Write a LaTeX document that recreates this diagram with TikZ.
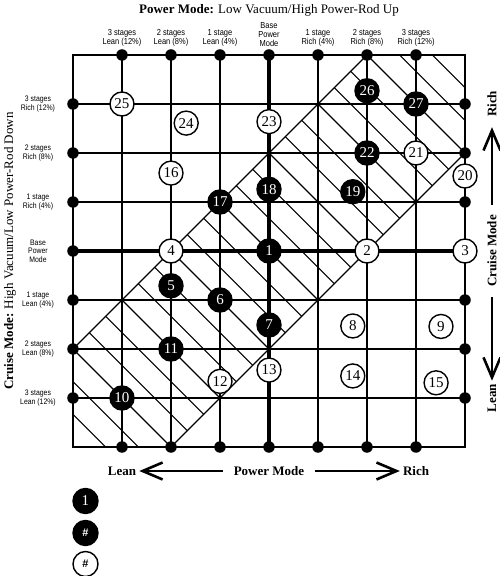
\documentclass[tikz,border=0pt]{standalone}
\usepackage{fontspec}
\setmainfont{Liberation Serif}
\newfontfamily\labfont[FakeStretch=0.86]{Liberation Sans}
\newfontfamily\symfont{Liberation Sans}
\usetikzlibrary{arrows.meta}
\begin{document}
\begin{tikzpicture}[x=49pt,y=49pt,
  gline/.style={line width=1.8pt},
  bline/.style={line width=3.2pt},
  hline/.style={line width=1.1pt},
  gdot/.style={circle, fill=black, inner sep=0pt, minimum size=11.5pt},
  wnum/.style={circle, draw=black, line width=1.4pt, fill=white, text=black, inner sep=0pt, minimum size=24pt, font=\fontsize{15}{15}\selectfont},
  bnum/.style={circle, draw=black, line width=1.4pt, fill=black, text=white, inner sep=0pt, minimum size=24pt, font=\fontsize{15}{15}\selectfont},
  toplab/.style={anchor=south, align=center, inner sep=0pt, font=\labfont\fontsize{8.7}{9}\selectfont},
  leftlab/.style={align=center, inner sep=0pt, font=\labfont\fontsize{8}{8.5}\selectfont},
  bigtext/.style={inner sep=0pt, font=\fontsize{13}{13}\selectfont},
  bigarrow/.style={line width=2.6pt, -{Straight Barb[length=20pt,width=17pt]}}
]
\useasboundingbox (-73pt,-129pt) rectangle (427pt,447pt);

% hatched band
\begin{scope}
\clip (0,2) -- (6,8) -- (8,8) -- (8,6) -- (2,0) -- (0,0) -- cycle;
\foreach \k in {1,...,23} \draw[hline] (-1,{2*\k/3+1}) -- ({2*\k/3+1},-1);
\end{scope}
\draw[hline] (0,2) -- (6,8);
\draw[hline] (2,0) -- (8,6);

% grid
\foreach \i in {1,...,7} {
  \coordinate (t\i) at (\i,8); \coordinate (b\i) at (\i,0);
  \coordinate (l\i) at (0,\i); \coordinate (r\i) at (8,\i);
}
\draw[gline] (0,0) rectangle (8,8);
\foreach \i in {1,2,3,5,6,7} {
  \draw[gline] (t\i) -- (b\i);
  \draw[gline] (l\i) -- (r\i);
}
\draw[bline] (t4) -- (b4);
\draw[bline] (l4) -- (r4);

% dots
\foreach \i in {1,...,7} {
  \node[gdot] (dt\i) at (t\i) {};
  \node[gdot] (db\i) at (b\i) {};
  \node[gdot] (dl\i) at (l\i) {};
}
\foreach \j in {1,2,3,5,6,7} \node[gdot] (dr\j) at (r\j) {};

% numbered circles
\node[bnum] (n1) at (4,4) {1};
\node[wnum] (n2) at (6,4) {2};
\node[wnum] (n3) at (8,4) {3};
\node[wnum] (n4) at (2,4) {4};
\node[bnum] (n5) at (2,3.29) {5};
\node[bnum] (n6) at (3,3) {6};
\node[bnum] (n7) at (4,2.49) {7};
\node[wnum] (n8) at (5.71,2.47) {8};
\node[wnum] (n9) at (7.51,2.46) {9};
\node[bnum] (n10) at (1,1) {10};
\node[bnum] (n11) at (2,2) {11};
\node[wnum] (n12) at (3,1.34) {12};
\node[wnum] (n13) at (4,1.57) {13};
\node[wnum] (n14) at (5.71,1.45) {14};
\node[wnum] (n15) at (7.41,1.31) {15};
\node[wnum] (n16) at (2,5.59) {16};
\node[bnum] (n17) at (3,5) {17};
\node[bnum] (n18) at (4,5.26) {18};
\node[bnum] (n19) at (5.71,5.21) {19};
\node[wnum] (n20) at (8,5.53) {20};
\node[wnum] (n21) at (7,6) {21};
\node[bnum] (n22) at (6,6) {22};
\node[wnum] (n23) at (4,6.64) {23};
\node[wnum] (n24) at (2.31,6.61) {24};
\node[wnum] (n25) at (1,7) {25};
\node[bnum] (n26) at (6,7.27) {26};
\node[bnum] (n27) at (7,7) {27};

% top labels
\node[toplab] (tl1) at ([yshift=8pt]t1) {3 stages\\Lean (12\%)};
\node[toplab] (tl2) at ([yshift=8pt]t2) {2 stages\\Lean (8\%)};
\node[toplab] (tl3) at ([yshift=8pt]t3) {1 stage\\Lean (4\%)};
\node[toplab] (tl4) at ([yshift=8pt]t4) {Base\\Power\\Mode};
\node[toplab] (tl5) at ([yshift=8pt]t5) {1 stage\\Rich (4\%)};
\node[toplab] (tl6) at ([yshift=8pt]t6) {2 stages\\Rich (8\%)};
\node[toplab] (tl7) at ([yshift=8pt]t7) {3 stages\\Rich (12\%)};

% left labels
\node[leftlab] (ll7) at ([xshift=-35pt]l7) {3 stages\\Rich (12\%)};
\node[leftlab] (ll6) at ([xshift=-35pt]l6) {2 stages\\Rich (8\%)};
\node[leftlab] (ll5) at ([xshift=-35pt]l5) {1 stage\\Rich (4\%)};
\node[leftlab] (ll4) at ([xshift=-35pt]l4) {Base\\Power\\Mode};
\node[leftlab] (ll3) at ([xshift=-35pt]l3) {1 stage\\Lean (4\%)};
\node[leftlab] (ll2) at ([xshift=-35pt]l2) {2 stages\\Lean (8\%)};
\node[leftlab] (ll1) at ([xshift=-35pt]l1) {3 stages\\Lean (12\%)};

% titles
\node[bigtext] (title) at ([yshift=45pt]t4) {\textbf{Power Mode:} Low Vacuum/High Power-Rod Up};
\node[bigtext, rotate=90] (ltitle) at ([xshift=-63pt]l4) {\textbf{Cruise Mode:} High Vacuum/Low Power-Rod Down};

% right axis
\node[bigtext, rotate=90] (cmode) at ([xshift=27pt]r4) {\textbf{Cruise Mode}};
\node[bigtext, rotate=90] (rrich) at ([xshift=27pt]r7) {\textbf{Rich}};
\node[bigtext, rotate=90] (rlean) at ([xshift=27pt]r1) {\textbf{Lean}};
\draw[bigarrow, shorten <=10pt, shorten >=10pt] (cmode) -- (rrich);
\draw[bigarrow, shorten <=10pt, shorten >=3pt] (cmode) -- (rlean);

% bottom axis
\node[bigtext] (pmode) at ([yshift=-24pt]b4) {\textbf{Power Mode}};
\node[bigtext] (blean) at ([yshift=-24pt]b1) {\textbf{Lean}};
\node[bigtext] (brich) at ([yshift=-24pt]b7) {\textbf{Rich}};
\draw[bigarrow, shorten <=11pt, shorten >=3pt] (pmode) -- (blean);
\draw[bigarrow, shorten <=11pt, shorten >=3pt] (pmode) -- (brich);

% legend
\node[bnum, minimum size=25pt] (leg1) at (12.5pt,-54pt) {1};
\node[bnum, minimum size=25pt, font=\symfont\bfseries\fontsize{11}{11}\selectfont] (leg2) at (12.5pt,-86pt) {\#};
\node[wnum, minimum size=25pt, font=\symfont\bfseries\fontsize{11}{11}\selectfont] (leg3) at (12.5pt,-117pt) {\#};
\end{tikzpicture}
\end{document}
